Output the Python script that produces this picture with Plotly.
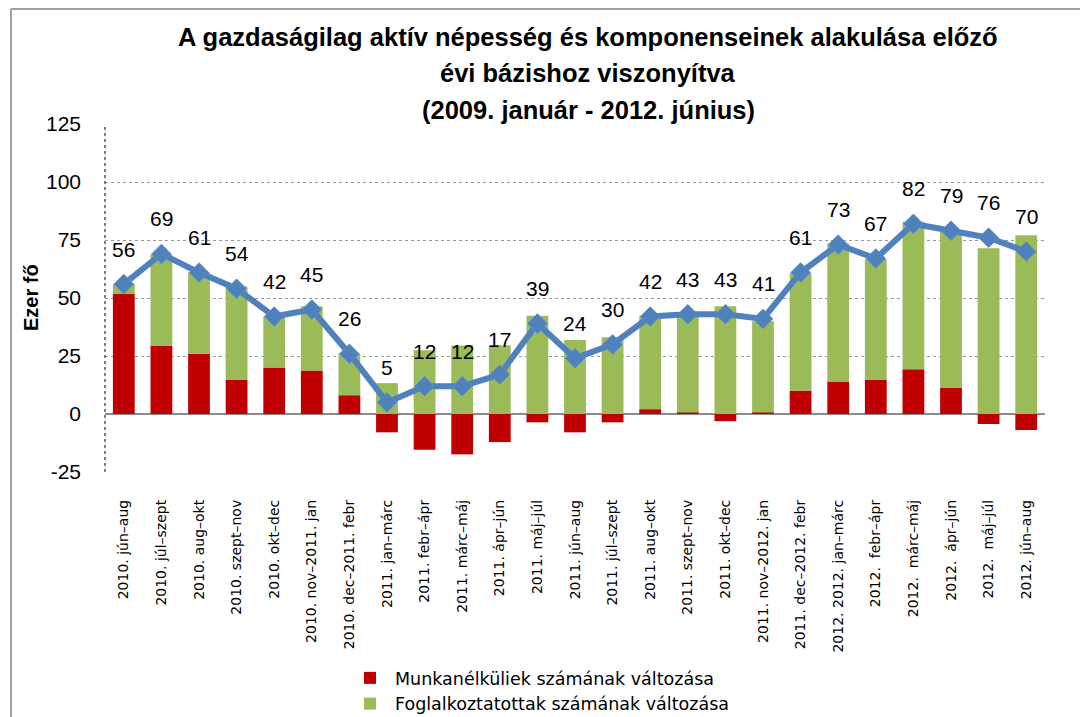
import plotly.graph_objects as go

categories = [
    "2010. jún–aug", "2010. júl–szept", "2010. aug–okt", "2010. szept–nov",
    "2010. okt–dec", "2010. nov–2011. jan", "2010. dec–2011. febr",
    "2011. jan–márc", "2011. febr–ápr", "2011. márc–máj", "2011. ápr–jún",
    "2011. máj–júl", "2011. jún–aug", "2011. júl–szept", "2011. aug–okt",
    "2011. szept–nov", "2011. okt–dec", "2011. nov–2012. jan",
    "2011. dec–2012. febr", "2012. 2012. jan–márc", "2012.\u00a0 febr–ápr",
    "2012.\u00a0 márc–máj", "2012.\u00a0 ápr–jún", "2012.\u00a0 máj–júl",
    "2012. jún–aug",
]
munkanelkuliek = [51.7, 29.3, 26.0, 14.7, 20.0, 18.7, 8.1, -7.9, -15.4, -17.4,
                  -12.1, -3.6, -7.9, -3.6, 2.1, 0.7, -3.1, 0.7, 10.1, 14.0,
                  14.7, 19.3, 11.4, -4.3, -6.9]
foglalkoztatottak = [4.4, 39.6, 35.0, 40.3, 22.1, 27.7, 17.9, 13.3, 27.5, 29.5,
                     29.6, 42.4, 31.9, 33.1, 40.3, 41.7, 46.4, 39.3, 50.6, 59.5,
                     52.0, 63.6, 67.2, 71.4, 77.1]
aktiv = [56, 69, 61, 54, 42, 45, 26, 5, 12, 12, 17, 39, 24, 30, 42, 43, 43, 41,
         61, 73, 67, 82, 79, 76, 70]
title_lines = [
    "A gazdaságilag aktív népesség és komponenseinek alakulása előző",
    "évi bázishoz viszonyítva",
    "(2009. január - 2012. június)",
]
y_ticks = [-25, 0, 25, 50, 75, 100, 125]
y_ticktext = ["-25", "0", "25", "50", "75", "100", "125"]

# screen geometry (page has an 8px body margin)
OFF = 8
SW, SH = 1088, 717
L, R, T, B = 105, 1045, 124, 472
W, H = SW - OFF, SH - OFF


def px_x(px):
    return (px - L) / (R - L)


def px_y(py):
    return (B - py) / (B - T)


x_idx = list(range(len(categories)))

fig = go.Figure()
fig.add_trace(go.Bar(
    x=x_idx, y=munkanelkuliek, name="Munkanélküliek számának változása",
    marker=dict(color="#C00000", line=dict(width=0)),
))
fig.add_trace(go.Bar(
    x=x_idx, y=foglalkoztatottak, name="Foglalkoztatottak számának változása",
    marker=dict(color="#9BBB59", line=dict(width=0)),
))
fig.add_trace(go.Scatter(
    x=x_idx, y=aktiv, mode="lines+markers", showlegend=False,
    line=dict(color="#4F81BD", width=6),
    marker=dict(symbol="diamond", size=15, color="#4F81BD",
                line=dict(color="#5B8CC8", width=1)),
))

annotations = []
for i, v in zip(x_idx, aktiv):
    annotations.append(dict(
        x=i, y=v, text=str(v), showarrow=False, yshift=35,
        font=dict(family="Liberation Sans", size=21, color="#000000"),
    ))
for line, py in zip(title_lines, [37, 73, 110]):
    annotations.append(dict(
        xref="paper", yref="paper", x=px_x(588), y=px_y(py), text=f"<b>{line}</b>",
        showarrow=False, xanchor="center", yanchor="middle",
        font=dict(family="Liberation Sans", size=25.5, color="#000000"),
    ))
annotations.append(dict(
    xref="paper", yref="paper", x=px_x(31), y=px_y(298), text="<b>Ezer fő</b>",
    showarrow=False, textangle=-90, xanchor="center", yanchor="middle",
    font=dict(family="Liberation Sans", size=20, color="#000000"),
))

shapes = [
    dict(type="line", xref="paper", yref="paper", x0=0, x1=0, y0=0, y1=1,
         line=dict(color="#555555", width=1.5, dash="dot")),
    dict(type="line", xref="paper", yref="paper", x0=px_x(11), x1=px_x(SW),
         y0=px_y(9), y1=px_y(9), line=dict(color="#A0A0A0", width=2)),
    dict(type="line", xref="paper", yref="paper", x0=px_x(11), x1=px_x(11),
         y0=px_y(9), y1=px_y(SH), line=dict(color="#A0A0A0", width=2)),
]

fig.update_layout(
    width=W, height=H,
    margin=dict(l=L - OFF, r=SW - R, t=T - OFF, b=SH - B, autoexpand=False),
    paper_bgcolor="white", plot_bgcolor="white",
    barmode="relative", bargap=0.42,
    showlegend=True,
    legend=dict(x=px_x(345), y=px_y(660), xanchor="left", yanchor="top",
                orientation="v", font=dict(family="DejaVu Sans", size=17.5, color="#000000"),
                bgcolor="rgba(0,0,0,0)", itemwidth=40, tracegroupgap=0),
    annotations=annotations,
    shapes=shapes,
    font=dict(family="Liberation Sans", color="#000000"),
)
fig.update_xaxes(
    range=[-0.5, len(categories) - 0.5], tickmode="array", tickvals=x_idx,
    ticktext=categories, tickangle=-90, showgrid=False, showline=False,
    zeroline=False, ticks="", ticklabelstandoff=24,
    tickfont=dict(family="DejaVu Sans", size=14, color="#000000"),
)
fig.update_yaxes(
    range=[-25, 125], tickmode="array", tickvals=y_ticks, ticktext=y_ticktext,
    showgrid=True, gridcolor="#9A9A9A", griddash="dot", gridwidth=1,
    zeroline=True, zerolinecolor="#8C8C8C", zerolinewidth=2,
    showline=False, ticks="", ticklabelstandoff=23,
    tickfont=dict(family="Liberation Sans", size=21, color="#000000"),
)

fig.write_html("out.html")
